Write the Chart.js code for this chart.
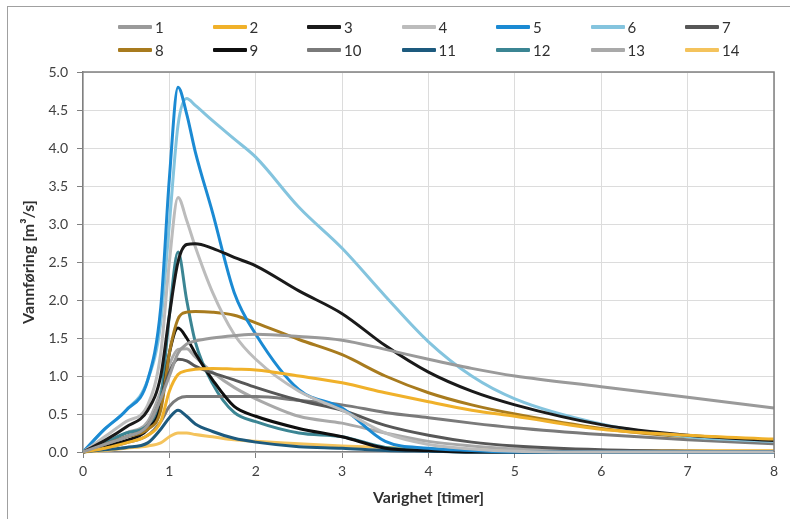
<!DOCTYPE html>
<html>
<head>
<meta charset="utf-8">
<script src="https://cdn.jsdelivr.net/npm/chart.js@4.4.0/dist/chart.umd.min.js"></script>
<style>
  html, body { margin: 0; padding: 0; background: #ffffff; }
  #wrap { position: relative; width: 790px; height: 519px; overflow: hidden; font-family: Lato, "Open Sans", sans-serif; }
  #frame { position: absolute; left: 7px; top: 6px; width: 790px; height: 600px; border-left: 1px solid #a0a0a0; border-top: 1px solid #a0a0a0; box-sizing: border-box; }
  #c { position: absolute; left: 0; top: 0; }
  #legend { position: absolute; left: 0; top: 0; width: 790px; height: 70px; }
  .item { position: absolute; height: 18px; display: flex; align-items: center; font-size: 15px; color: #303030; }
  .swatch { width: 34px; height: 4px; margin-right: 3px; border-radius: 1px; }
</style>
</head>
<body>
<div id="wrap">
  <div id="frame"></div>
  <canvas id="c" width="790" height="519"></canvas>
  <div id="legend"></div>
</div>
<script>
// ---- data ----
const timeHours = [0, 0.25, 0.5, 0.75, 0.9, 1.0, 1.1, 1.2, 1.3, 1.5, 1.75, 2, 2.5, 3, 3.5, 4, 4.5, 5, 6, 7, 8];

const seriesNames = ["1","2","3","4","5","6","7","8","9","10","11","12","13","14"];

const s1  = [0, 0.10, 0.20, 0.35, 0.70, 1.00, 1.30, 1.42, 1.46, 1.50, 1.53, 1.55, 1.52, 1.47, 1.35, 1.22, 1.10, 1.00, 0.86, 0.72, 0.58];
const s2  = [0, 0.05, 0.12, 0.22, 0.40, 0.80, 1.02, 1.07, 1.09, 1.10, 1.09, 1.08, 1.00, 0.91, 0.78, 0.66, 0.55, 0.47, 0.30, 0.22, 0.17];
const s3  = [0, 0.15, 0.33, 0.55, 1.00, 1.80, 2.50, 2.73, 2.74, 2.68, 2.56, 2.45, 2.12, 1.82, 1.40, 1.05, 0.80, 0.62, 0.36, 0.22, 0.15];
const s4  = [0, 0.20, 0.40, 0.62, 1.30, 2.50, 3.35, 3.05, 2.70, 2.10, 1.55, 1.22, 0.80, 0.55, 0.25, 0.10, 0.04, 0.01, 0, 0, 0];
const s5  = [0, 0.30, 0.55, 0.95, 1.90, 3.60, 4.80, 4.45, 3.95, 3.15, 2.10, 1.55, 0.82, 0.58, 0.14, 0.05, 0.02, 0, 0, 0, 0];
const s6  = [0, 0.30, 0.55, 0.95, 1.70, 3.00, 4.30, 4.65, 4.56, 4.36, 4.12, 3.88, 3.22, 2.68, 2.05, 1.45, 1.00, 0.70, 0.37, 0.20, 0.14];
const s7  = [0, 0.10, 0.20, 0.35, 0.70, 1.05, 1.22, 1.20, 1.13, 1.04, 0.95, 0.85, 0.68, 0.55, 0.35, 0.22, 0.13, 0.08, 0.03, 0.01, 0];
const s8  = [0, 0.10, 0.20, 0.30, 0.55, 1.30, 1.75, 1.84, 1.85, 1.84, 1.80, 1.70, 1.48, 1.28, 1.00, 0.78, 0.62, 0.50, 0.31, 0.20, 0.15];
const s9  = [0, 0.08, 0.15, 0.30, 0.60, 1.30, 1.63, 1.50, 1.30, 0.95, 0.60, 0.47, 0.31, 0.20, 0.05, 0.02, 0, 0, 0, 0, 0];
const s10 = [0, 0.05, 0.12, 0.22, 0.40, 0.60, 0.70, 0.73, 0.73, 0.73, 0.73, 0.73, 0.68, 0.62, 0.52, 0.45, 0.38, 0.32, 0.23, 0.16, 0.11];
const s11 = [0, 0.03, 0.06, 0.12, 0.30, 0.45, 0.55, 0.47, 0.37, 0.27, 0.18, 0.13, 0.07, 0.05, 0.02, 0.01, 0, 0, 0, 0, 0];
const s12 = [0, 0.12, 0.25, 0.35, 0.70, 1.80, 2.63, 2.00, 1.45, 0.90, 0.52, 0.40, 0.25, 0.20, 0.06, 0.02, 0, 0, 0, 0, 0];
const s13 = [0, 0.12, 0.25, 0.40, 0.80, 1.15, 1.35, 1.36, 1.25, 1.05, 0.85, 0.70, 0.47, 0.38, 0.25, 0.14, 0.08, 0.04, 0.01, 0, 0];
const s14 = [0, 0.02, 0.05, 0.08, 0.12, 0.20, 0.25, 0.25, 0.23, 0.20, 0.16, 0.14, 0.11, 0.08, 0.06, 0.04, 0.03, 0.02, 0.02, 0.02, 0.02];

const seriesValues = [s1, s2, s3, s4, s5, s6, s7, s8, s9, s10, s11, s12, s13, s14];

const xTicks = [0, 1, 2, 3, 4, 5, 6, 7, 8];
const yTicks = [0, 0.5, 1.0, 1.5, 2.0, 2.5, 3.0, 3.5, 4.0, 4.5, 5.0];

// ---- styles ----
const colors = ["#9a9a9a", "#f0b12a", "#1a1a1a", "#bcbcbc", "#1b8ad3", "#84c4de", "#575757",
                "#a87b1e", "#0f0f0f", "#7a7a7a", "#1d5a7e", "#3b8593", "#a9a9a9", "#f4c35c"];

const datasets = seriesNames.map((name, i) => ({
  label: name,
  data: timeHours.map((t, j) => ({ x: t, y: seriesValues[i][j] })),
  borderColor: colors[i],
  backgroundColor: colors[i],
  borderWidth: 3,
  pointRadius: 0,
  fill: false,
  cubicInterpolationMode: 'monotone',
  clip: 3
}));

const frame = {
  id: 'frame',
  afterDraw(chart) {
    const { ctx, chartArea: a } = chart;
    ctx.save();
    ctx.strokeStyle = '#808080';
    ctx.lineWidth = 1.5;
    ctx.beginPath();
    ctx.moveTo(a.left, a.top);
    ctx.lineTo(a.right, a.top);
    ctx.lineTo(a.right, a.bottom);
    ctx.stroke();
    ctx.restore();
  }
};

const font = { family: 'Lato, "Open Sans", sans-serif', size: 14 };
const titleFont = { family: 'Lato, "Open Sans", sans-serif', size: 16, weight: 'bold' };

const chart = new Chart(document.getElementById('c'), {
  type: 'line',
  data: { datasets },
  plugins: [frame],
  options: {
    responsive: false,
    animation: false,
    layout: { padding: { top: 72, right: 16, left: 0, bottom: 0 } },
    plugins: { legend: { display: false }, tooltip: { enabled: false } },
    scales: {
      x: {
        type: 'linear', min: 0, max: 8,
        afterBuildTicks: s => { s.ticks = xTicks.map(v => ({ value: v })); },
        afterFit: s => { s.height = 67; },
        grid: { color: '#dcdcdc', lineWidth: 1, tickLength: 6, tickColor: '#808080', drawTicks: true },
        border: { color: '#808080', width: 1.5 },
        ticks: { font, color: '#404040', padding: 5, maxRotation: 0, callback: v => String(v) },
        title: { display: true, text: 'Varighet [timer]', font: titleFont, color: '#303030', padding: { top: 0, bottom: 12 } }
      },
      y: {
        type: 'linear', min: 0, max: 5,
        afterBuildTicks: s => { s.ticks = yTicks.map(v => ({ value: v })); },
        afterFit: s => { s.width = 83; },
        grid: { color: '#dcdcdc', lineWidth: 1, tickLength: 6, tickColor: '#808080' },
        border: { color: '#808080', width: 1.5 },
        ticks: { font, color: '#404040', padding: 9, callback: v => Number(v).toFixed(1) },
        title: { display: true, text: 'Vannføring [m³/s]', font: titleFont, color: '#303030', padding: { top: 19, bottom: 0 } }
      }
    }
  }
});

// ---- legend (HTML, built from chart datasets) ----
const legend = document.getElementById('legend');
chart.data.datasets.forEach((ds, i) => {
  const row = Math.floor(i / 7), col = i % 7;
  const el = document.createElement('div');
  el.className = 'item';
  el.style.left = (118 + col * 94.5) + 'px';
  el.style.top = (18 + row * 23) + 'px';
  const sw = document.createElement('div');
  sw.className = 'swatch';
  sw.style.background = ds.borderColor;
  const tx = document.createElement('span');
  tx.textContent = ds.label;
  el.appendChild(sw); el.appendChild(tx);
  legend.appendChild(el);
});
</script>
</body>
</html>
